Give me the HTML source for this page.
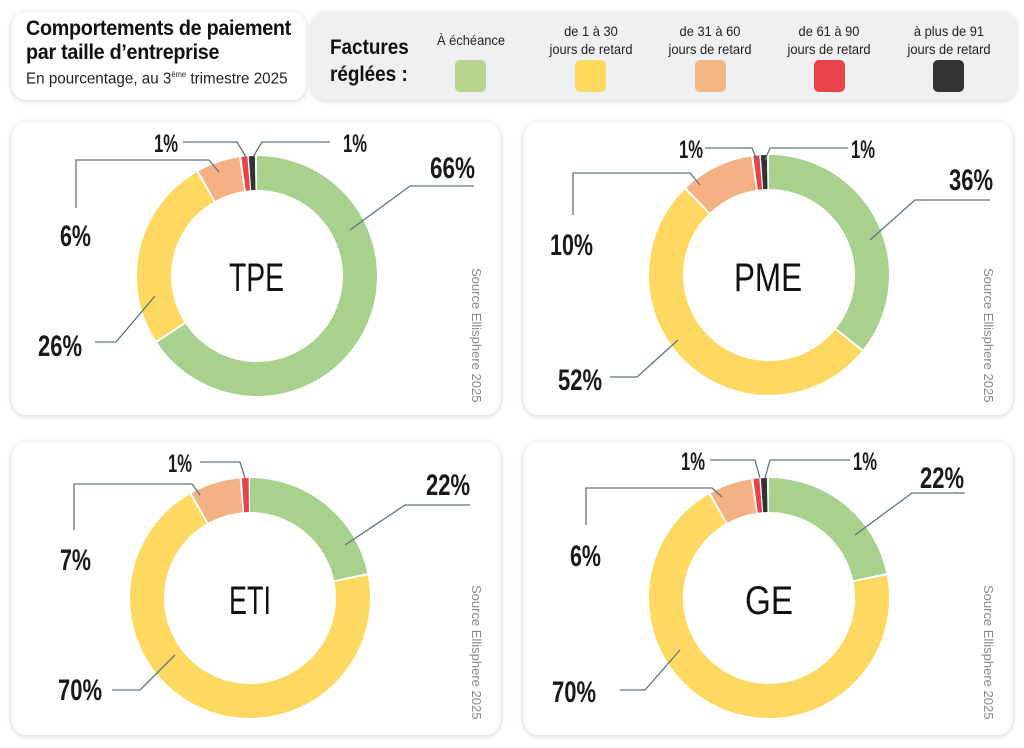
<!DOCTYPE html>
<html><head><meta charset="utf-8"><style>
body{margin:0;width:1024px;height:748px;background:#fff;overflow:hidden;font-family:"Liberation Sans Narrow","Liberation Sans",sans-serif}
.card{position:absolute;background:#fff;border-radius:14px;box-shadow:0 1px 6px rgba(0,0,0,0.18)}
.lg{position:absolute;text-align:center;font-size:14px;color:#222;line-height:18px;width:120px;transform:scaleX(0.92)}
.sw{position:absolute;top:60px;width:31px;height:32px;border-radius:5px}
</style></head><body>
<div class="card" style="left:12px;top:12px;width:294px;height:88px"></div>
<div class="card" style="left:312px;top:12px;width:704px;height:88px;background:#eef0f2"></div>
<div style="position:absolute;left:26px;top:17px;font-weight:bold;font-size:21px;line-height:24px;color:#111;letter-spacing:-0.3px;transform:scaleX(0.94);transform-origin:0 0;white-space:nowrap">Comportements de paiement<br>par taille d’entreprise</div>
<div style="position:absolute;left:26px;top:70px;font-size:16px;color:#222;transform:scaleX(0.95);transform-origin:0 0;white-space:nowrap">En pourcentage, au 3<sup style="font-size:8px">ème</sup> trimestre 2025</div>
<div style="position:absolute;left:330px;top:34px;font-weight:bold;font-size:21px;line-height:27px;color:#111;transform:scaleX(0.9);transform-origin:0 0">Factures<br>réglées :</div>
<div class="lg" style="left:411px;top:31px">À échéance</div>
<div class="lg" style="left:531px;top:22px">de 1 à 30<br>jours de retard</div>
<div class="lg" style="left:650px;top:22px">de 31 à 60<br>jours de retard</div>
<div class="lg" style="left:769px;top:22px">de 61 à 90<br>jours de retard</div>
<div class="lg" style="left:889px;top:22px">à plus de 91<br>jours de retard</div>
<div class="sw" style="left:455px;background:#b7d58e"></div>
<div class="sw" style="left:575px;background:#fdda5e"></div>
<div class="sw" style="left:695px;background:#f4b684"></div>
<div class="sw" style="left:814px;background:#e8424a"></div>
<div class="sw" style="left:933px;background:#333"></div>

<div class="card" style="left:12px;top:122px;width:488px;height:293px"></div>
<div class="card" style="left:524px;top:122px;width:488px;height:293px"></div>
<div class="card" style="left:12px;top:442px;width:488px;height:293px"></div>
<div class="card" style="left:524px;top:442px;width:488px;height:293px"></div>

<svg style="position:absolute;left:0;top:0" width="1024" height="748" font-family="Liberation Sans Narrow, Liberation Sans, sans-serif">
<g fill="none" stroke-width="34">
 <g transform="translate(257,276) rotate(-90)">
  <circle r="103" pathLength="100" stroke="#a8d18d" stroke-dasharray="65.7 100" stroke-dashoffset="0"/>
  <circle r="103" pathLength="100" stroke="#fdd962" stroke-dasharray="25.7 100" stroke-dashoffset="-66"/>
  <circle r="103" pathLength="100" stroke="#f4b183" stroke-dasharray="5.7 100" stroke-dashoffset="-92"/>
  <circle r="103" pathLength="100" stroke="#e8434b" stroke-dasharray="0.8 100" stroke-dashoffset="-98"/>
  <circle r="103" pathLength="100" stroke="#333" stroke-dasharray="0.8 100" stroke-dashoffset="-99"/>
 </g>
 <g transform="translate(769,275) rotate(-90)">
  <circle r="103" pathLength="100" stroke="#a8d18d" stroke-dasharray="35.7 100" stroke-dashoffset="0"/>
  <circle r="103" pathLength="100" stroke="#fdd962" stroke-dasharray="51.7 100" stroke-dashoffset="-36"/>
  <circle r="103" pathLength="100" stroke="#f4b183" stroke-dasharray="9.7 100" stroke-dashoffset="-88"/>
  <circle r="103" pathLength="100" stroke="#e8434b" stroke-dasharray="0.8 100" stroke-dashoffset="-98"/>
  <circle r="103" pathLength="100" stroke="#333" stroke-dasharray="0.8 100" stroke-dashoffset="-99"/>
 </g>
 <g transform="translate(250,598) rotate(-90)">
  <circle r="103" pathLength="100" stroke="#a8d18d" stroke-dasharray="21.7 100" stroke-dashoffset="0"/>
  <circle r="103" pathLength="100" stroke="#fdd962" stroke-dasharray="69.7 100" stroke-dashoffset="-22"/>
  <circle r="103" pathLength="100" stroke="#f4b183" stroke-dasharray="6.7 100" stroke-dashoffset="-92"/>
  <circle r="103" pathLength="100" stroke="#e8434b" stroke-dasharray="0.9 100" stroke-dashoffset="-99"/>
 </g>
 <g transform="translate(769,598) rotate(-90)">
  <circle r="103" pathLength="100" stroke="#a8d18d" stroke-dasharray="21.7 100" stroke-dashoffset="0"/>
  <circle r="103" pathLength="100" stroke="#fdd962" stroke-dasharray="69.7 100" stroke-dashoffset="-22"/>
  <circle r="103" pathLength="100" stroke="#f4b183" stroke-dasharray="5.7 100" stroke-dashoffset="-92"/>
  <circle r="103" pathLength="100" stroke="#e8434b" stroke-dasharray="0.8 100" stroke-dashoffset="-98"/>
  <circle r="103" pathLength="100" stroke="#333" stroke-dasharray="0.8 100" stroke-dashoffset="-99"/>
 </g>
</g>
<g fill="none" stroke="#5f7380" stroke-width="1.3">
 <polyline points="350,230 410,186 474,186"/>
 <polyline points="155,296 116,342 95,342"/>
 <polyline points="76,208 76,160 209,160 219,172"/>
 <polyline points="183,142 237,142 246,157"/>
 <polyline points="330,142 262,142 253,157"/>

 <polyline points="870,240 915,200 990,200"/>
 <polyline points="678,340 637,377 610,377"/>
 <polyline points="573,215 573,173 690,173 700,185"/>
 <polyline points="705,148 752,148 757,160"/>
 <polyline points="848,148 770,148 765,160"/>

 <polyline points="345,545 405,505 470,505"/>
 <polyline points="175,655 140,690 112,690"/>
 <polyline points="74,530 74,484 192,484 200,495"/>
 <polyline points="200,462 240,462 245,478"/>

 <polyline points="855,535 912,493 965,493"/>
 <polyline points="680,650 645,690 620,690"/>
 <polyline points="586,525 586,488 712,488 722,497"/>
 <polyline points="710,460 755,460 760,478"/>
 <polyline points="850,460 770,460 765,478"/>
</g>
<g fill="#1a1a1a" font-weight="bold" font-size="30" lengthAdjust="spacingAndGlyphs">
 <text x="430" y="178" textLength="45" lengthAdjust="spacingAndGlyphs">66%</text>
 <text x="38" y="356" textLength="44" lengthAdjust="spacingAndGlyphs">26%</text>
 <text x="60" y="246" textLength="31" lengthAdjust="spacingAndGlyphs">6%</text>
 <text x="154" y="152" font-size="25" textLength="24" lengthAdjust="spacingAndGlyphs">1%</text>
 <text x="343" y="152" font-size="25" textLength="24" lengthAdjust="spacingAndGlyphs">1%</text>
 <text x="949" y="190" textLength="44" lengthAdjust="spacingAndGlyphs">36%</text>
 <text x="558" y="390" textLength="44" lengthAdjust="spacingAndGlyphs">52%</text>
 <text x="550" y="255" textLength="43" lengthAdjust="spacingAndGlyphs">10%</text>
 <text x="679" y="158" font-size="25" textLength="24" lengthAdjust="spacingAndGlyphs">1%</text>
 <text x="851" y="158" font-size="25" textLength="24" lengthAdjust="spacingAndGlyphs">1%</text>
 <text x="426" y="495" textLength="44" lengthAdjust="spacingAndGlyphs">22%</text>
 <text x="58" y="700" textLength="44" lengthAdjust="spacingAndGlyphs">70%</text>
 <text x="60" y="570" textLength="31" lengthAdjust="spacingAndGlyphs">7%</text>
 <text x="168" y="472" font-size="25" textLength="24" lengthAdjust="spacingAndGlyphs">1%</text>
 <text x="920" y="488" textLength="44" lengthAdjust="spacingAndGlyphs">22%</text>
 <text x="552" y="702" textLength="44" lengthAdjust="spacingAndGlyphs">70%</text>
 <text x="570" y="566" textLength="31" lengthAdjust="spacingAndGlyphs">6%</text>
 <text x="681" y="470" font-size="25" textLength="24" lengthAdjust="spacingAndGlyphs">1%</text>
 <text x="853" y="470" font-size="25" textLength="24" lengthAdjust="spacingAndGlyphs">1%</text>
</g>
<g fill="#111" font-size="40">
 <text x="229" y="291" textLength="55" lengthAdjust="spacingAndGlyphs">TPE</text>
 <text x="734" y="291" textLength="68" lengthAdjust="spacingAndGlyphs">PME</text>
 <text x="229" y="614" textLength="42" lengthAdjust="spacingAndGlyphs">ETI</text>
 <text x="745" y="614" textLength="48" lengthAdjust="spacingAndGlyphs">GE</text>
</g>
<g fill="#888" font-size="13" font-family="Liberation Sans, sans-serif">
 <text transform="translate(472,268) rotate(90)">Source Ellisphere 2025</text>
 <text transform="translate(984,268) rotate(90)">Source Ellisphere 2025</text>
 <text transform="translate(472,585) rotate(90)">Source Ellisphere 2025</text>
 <text transform="translate(984,585) rotate(90)">Source Ellisphere 2025</text>
</g>
</svg>
</body></html>
